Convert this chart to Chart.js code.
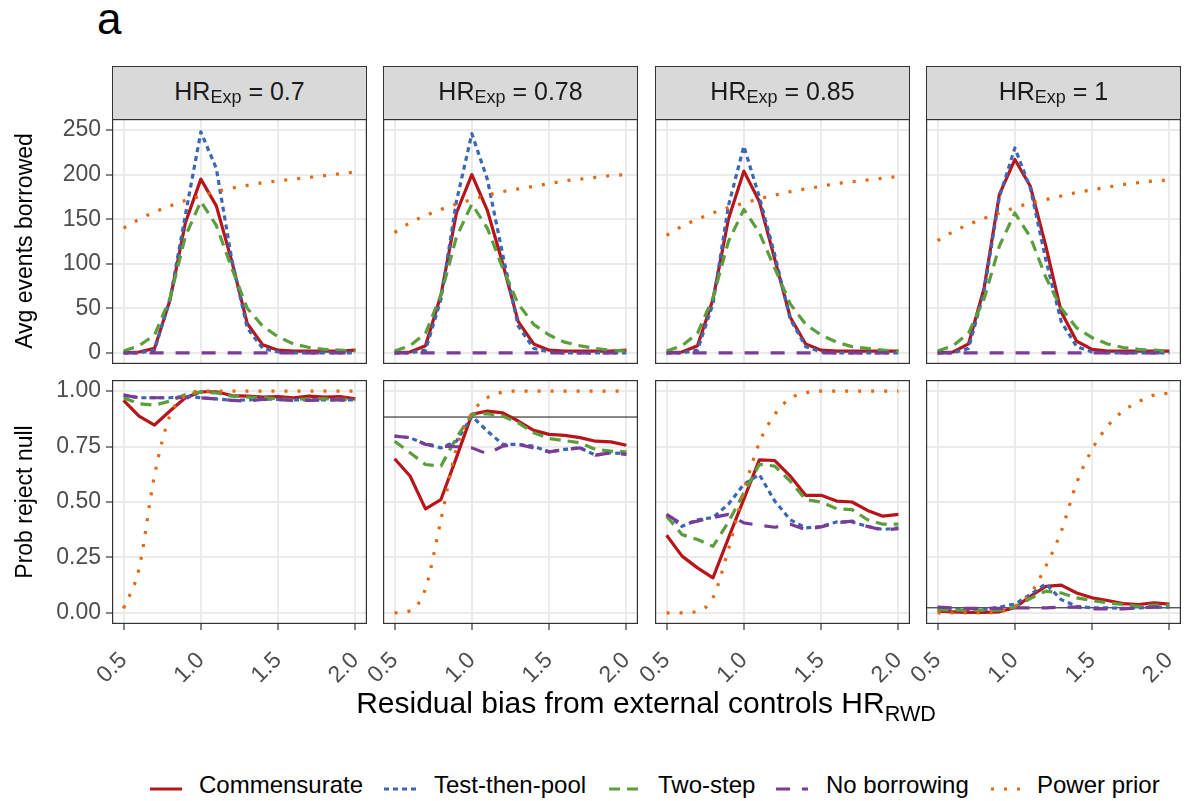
<!DOCTYPE html>
<html><head><meta charset="utf-8">
<script src="https://cdn.jsdelivr.net/npm/chart.js@4.4.1/dist/chart.umd.min.js"></script>
<style>
body{margin:0;background:#fff;width:1184px;height:801px;position:relative;overflow:hidden;font-family:"Liberation Sans",Arial,Helvetica,sans-serif;}
.strip{position:absolute;background:#D9D9D9;border:1.2px solid #333;box-sizing:border-box;display:flex;align-items:center;justify-content:center;font-size:25px;color:#1a1a1a;white-space:nowrap;padding-bottom:3px;}
.sub{font-size:0.72em;position:relative;top:0.35em;}
.ytitle{position:absolute;transform:translate(-50%,-50%) rotate(-90deg);font-size:23px;color:#000;white-space:nowrap;}
.xtitle{position:absolute;transform:translate(-50%,-50%);font-size:30px;color:#000;white-space:nowrap;}
.legkey{position:absolute;top:780px;}
.legtxt{position:absolute;top:771px;height:28px;line-height:28px;font-size:24px;color:#000;white-space:nowrap;}
#tag{position:absolute;left:97px;top:-6px;font-size:44px;color:#000;}
</style></head><body>
<div id="tag">a</div>
<script>
// ---------- data ----------
const hrRwd = [0.5,0.6,0.7,0.8,0.9,1.0,1.1,1.2,1.3,1.4,1.5,1.6,1.7,1.8,1.9,2.0];
const hrExpLabels = ['0.7','0.78','0.85','1'];
const seriesNames = ['Commensurate','Test-then-pool','Two-step','No borrowing','Power prior'];
const eventsTicks = [0,50,100,150,200,250];
const probTicks = [0,0.25,0.5,0.75,1];
const xTicks = [0.5,1.0,1.5,2.0];

// Avg events borrowed (one row per HR_Exp panel)
const eventsCommensurate = [
  [0,1,5,59,146,195,165,103,33,9,3,2,2,2,2,3],
  [0,1,8,65,157,200,160,100,35,10,3,2,2,2,2,3],
  [0,1,8,60,150,204,170,105,40,10,3,2,2,2,2,2],
  [0,1,10,72,178,217,187,120,46,13,4,2,2,2,2,2]];
const eventsTestThenPool = [
  [0,0,3,60,155,248,207,105,28,5,1,0,0,0,0,0],
  [0,0,3,60,170,246,195,110,30,5,1,0,0,0,0,0],
  [0,0,3,55,165,232,175,110,38,7,1,0,0,0,0,0],
  [0,0,5,68,175,230,185,105,35,7,1,0,0,0,0,0]];
const eventsTwoStep = [
  [2,8,20,61,131,170,143,95,50,30,18,10,6,4,3,2],
  [2,8,22,65,130,167,140,95,55,32,20,12,8,5,3,2],
  [2,8,22,62,125,161,135,95,55,32,20,12,7,5,3,2],
  [2,8,22,60,120,157,130,85,50,28,17,10,6,4,3,2]];
const eventsNoBorrowing = [
  [0,0,0,0,0,0,0,0,0,0,0,0,0,0,0,0],
  [0,0,0,0,0,0,0,0,0,0,0,0,0,0,0,0],
  [0,0,0,0,0,0,0,0,0,0,0,0,0,0,0,0],
  [0,0,0,0,0,0,0,0,0,0,0,0,0,0,0,0]];
const eventsPowerPrior = [
  [140,150,158,165,171,176,181,185,188,191,193,195,197,199,201,203],
  [135,146,154,161,167,172,177,181,184,187,190,193,195,197,199,200],
  [132,142,150,157,163,168,173,177,181,184,187,190,192,194,196,198],
  [126,136,144,151,157,163,168,172,176,180,183,186,189,191,193,194]];

// Prob reject null
const probCommensurate = [
  [0.958,0.887,0.847,0.91,0.97,0.997,0.997,0.98,0.977,0.973,0.975,0.97,0.977,0.973,0.975,0.965],
  [0.695,0.617,0.469,0.511,0.70,0.895,0.91,0.902,0.865,0.823,0.805,0.80,0.79,0.774,0.771,0.756],
  [0.35,0.256,0.203,0.158,0.337,0.513,0.69,0.687,0.617,0.53,0.53,0.504,0.50,0.462,0.436,0.444],
  [0.008,0.005,0.002,0.002,0.005,0.023,0.075,0.12,0.125,0.09,0.068,0.056,0.042,0.038,0.045,0.04]];
const probTestThenPool = [
  [0.982,0.97,0.97,0.97,0.977,0.97,0.965,0.958,0.96,0.965,0.962,0.96,0.96,0.96,0.96,0.96],
  [0.797,0.79,0.76,0.744,0.774,0.887,0.82,0.76,0.76,0.752,0.726,0.737,0.744,0.711,0.722,0.717],
  [0.444,0.39,0.42,0.43,0.49,0.58,0.624,0.504,0.42,0.383,0.39,0.41,0.41,0.39,0.376,0.383],
  [0.023,0.018,0.015,0.015,0.026,0.04,0.083,0.131,0.06,0.03,0.023,0.023,0.02,0.023,0.026,0.026]];
const probTwoStep = [
  [0.97,0.943,0.937,0.955,0.985,0.995,0.992,0.977,0.973,0.97,0.965,0.962,0.965,0.965,0.963,0.962],
  [0.774,0.722,0.669,0.662,0.79,0.895,0.898,0.887,0.857,0.812,0.786,0.777,0.767,0.737,0.729,0.726],
  [0.436,0.353,0.331,0.30,0.41,0.54,0.67,0.662,0.594,0.511,0.50,0.47,0.466,0.42,0.40,0.40],
  [0.015,0.012,0.012,0.012,0.012,0.026,0.065,0.098,0.09,0.068,0.056,0.045,0.038,0.03,0.035,0.035]];
const probNoBorrowing = [
  [0.982,0.97,0.97,0.97,0.97,0.97,0.965,0.958,0.955,0.962,0.962,0.958,0.958,0.96,0.96,0.958],
  [0.797,0.79,0.76,0.752,0.749,0.744,0.717,0.752,0.76,0.744,0.726,0.737,0.744,0.711,0.722,0.714],
  [0.444,0.40,0.414,0.43,0.444,0.406,0.395,0.386,0.40,0.376,0.388,0.406,0.414,0.39,0.373,0.38],
  [0.026,0.023,0.02,0.02,0.02,0.023,0.023,0.023,0.026,0.026,0.018,0.018,0.018,0.023,0.026,0.026]];
const probPowerPrior = [
  [0.02,0.2,0.62,0.89,0.98,1,1,1,1,1,1,1,1,1,1,1],
  [0.0,0.01,0.11,0.42,0.74,0.9,0.97,0.995,1,1,1,1,1,1,1,1],
  [0,0,0.008,0.068,0.286,0.55,0.767,0.895,0.967,0.992,1,1,1,1,1,1],
  [0,0,0,0,0.005,0.03,0.086,0.21,0.368,0.586,0.737,0.842,0.91,0.952,0.982,0.99]];

// horizontal reference lines in the lower row (null = none)
const refLines = [null, 0.883, null, 0.023];

// ---------- styles ----------
const seriesStyle = [
  {color:'#B8151B', dash:[], width:3.2},
  {color:'#3B67B3', dash:[5,4], width:3.2},
  {color:'#5B9E3C', dash:[11,7], width:3.2},
  {color:'#7A3C96', dash:[14,12], width:3.2},
  {color:'#E4680F', dash:[3,10], width:3.2}
];
const eventsData = [eventsCommensurate, eventsTestThenPool, eventsTwoStep, eventsNoBorrowing, eventsPowerPrior];
const probData = [probCommensurate, probTestThenPool, probTwoStep, probNoBorrowing, probPowerPrior];

const cols = [112, 383, 655, 926];
const PW = 255;
const rows = [{top:119, h:245}, {top:380, h:244}];
const X_MIN = 0.425, X_MAX = 2.075;
const Y_RANGES = [{min:-12.5, max:262.5}, {min:-0.05, max:1.05}];
const FONT = '"Liberation Sans", Arial, Helvetica, sans-serif';

const borderPlugin = {
  id:'panelBorder',
  afterDraw(chart){
    const a = chart.chartArea, ctx = chart.ctx;
    ctx.save();
    ctx.strokeStyle = '#333'; ctx.lineWidth = 1.2; ctx.setLineDash([]);
    ctx.strokeRect(a.left+0.6, a.top+0.6, a.right-a.left-1.2, a.bottom-a.top-1.2);
    ctx.restore();
  }
};

function makePanel(r, c){
  const extraL = c===0 ? 112 : (r===1 ? 22 : 0);
  const extraB = r===1 ? 85 : 0;
  const W = PW + extraL, H = rows[r].h + extraB;
  const cv = document.createElement('canvas');
  cv.width = W; cv.height = H;
  cv.style.cssText = `position:absolute;left:${cols[c]-extraL}px;top:${rows[r].top}px;width:${W}px;height:${H}px;`;
  document.body.appendChild(cv);
  const src = r===0 ? eventsData : probData;
  const datasets = seriesNames.map((name,i)=>({
    label:name,
    data: hrRwd.map((x,k)=>({x:x, y:src[i][c][k]})),
    borderColor: seriesStyle[i].color,
    borderWidth: seriesStyle[i].width,
    borderDash: seriesStyle[i].dash,
    borderCapStyle:'butt',
    borderJoinStyle:'round',
    pointRadius:0,
    fill:false,
    tension:0,
    cubicInterpolationMode: name==='Power prior' ? 'monotone' : 'default',
    order: 5-i
  }));
  if (r===1 && refLines[c] !== null){
    datasets.push({label:'ref', data:[{x:X_MIN,y:refLines[c]},{x:X_MAX,y:refLines[c]}],
      borderColor:'#111', borderWidth:1, pointRadius:0, fill:false, order:10});
  }
  const ticksY = r===0 ? eventsTicks : probTicks;
  new Chart(cv, {
    type:'line',
    data:{datasets},
    options:{
      responsive:false, animation:false, devicePixelRatio:1, events:[],
      layout:{padding:0, autoPadding:false},
      plugins:{legend:{display:false}, tooltip:{enabled:false}},
      scales:{
        x:{type:'linear', min:X_MIN, max:X_MAX,
          afterBuildTicks(s){ s.ticks = xTicks.map(v=>({value:v})); },
          afterFit(s){ s.height = extraB; s.paddingLeft=0; s.paddingRight=0; },
          grid:{color:'#EBEBEB', lineWidth:2, drawTicks: r===1, tickColor:'#333', tickLength:6, tickWidth:1.2},
          border:{display:false},
          ticks:{display: r===1, minRotation:45, maxRotation:45, padding:17, autoSkip:false,
            color:'#4D4D4D', font:{family:FONT, size:23},
            callback:v=>Number(v).toFixed(1)}
        },
        y:{type:'linear', min:Y_RANGES[r].min, max:Y_RANGES[r].max,
          afterBuildTicks(s){ s.ticks = ticksY.map(v=>({value:v})); },
          afterFit(s){ s.width = extraL; s.paddingTop=0; s.paddingBottom=0; },
          grid:{color:'#EBEBEB', lineWidth:2, drawTicks: c===0, tickColor:'#333', tickLength:6, tickWidth:1.2},
          border:{display:false},
          ticks:{display: c===0, padding:5, autoSkip:false,
            color:'#4D4D4D', font:{family:FONT, size:23},
            callback:v=> r===0 ? String(Math.round(v)) : Number(v).toFixed(2)}
        }
      }
    },
    plugins:[borderPlugin]
  });
}

for (let r=0;r<2;r++) for (let c=0;c<4;c++) makePanel(r,c);

// strips
hrExpLabels.forEach((lab,c)=>{
  const d = document.createElement('div');
  d.className='strip';
  d.style.cssText = `left:${cols[c]}px;top:66px;width:${PW}px;height:54px;`;
  d.innerHTML = `HR<span class="sub">Exp</span>&nbsp;= ${lab}`;
  document.body.appendChild(d);
});

// axis titles
function addDiv(cls, html, x, y){
  const d=document.createElement('div'); d.className=cls; d.innerHTML=html;
  d.style.left=x+'px'; d.style.top=y+'px'; document.body.appendChild(d);
  return d;
}
addDiv('ytitle','Avg events borrowed',24,241);
addDiv('ytitle','Prob reject null',24,502);
addDiv('xtitle','Residual bias from external controls HR<span class="sub">RWD</span>',646,703);

// legend
const legKeyX = [150, 384, 609, 776, 991];
const legTxtX = [199, 434, 658, 826, 1037];
seriesNames.forEach((name,i)=>{
  const s = seriesStyle[i];
  const k = addDiv('legkey', `<svg width="32" height="10"><line x1="0" y1="5" x2="32" y2="5" stroke="${s.color}" stroke-width="3" ${s.dash.length? `stroke-dasharray="${s.dash.join(',')}"`:''}/></svg>`, legKeyX[i], 780);
  addDiv('legtxt', name, legTxtX[i], 771);
});
</script>
</body></html>
